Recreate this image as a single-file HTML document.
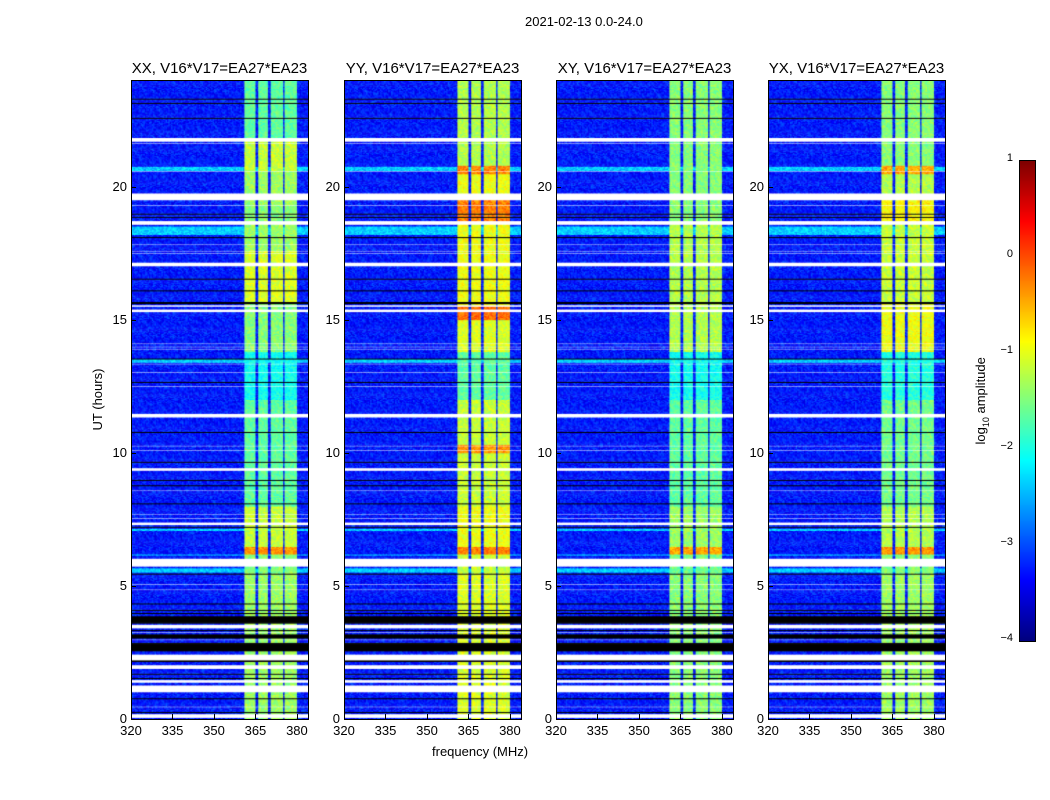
<!DOCTYPE html>
<html><head><meta charset="utf-8">
<style>
body{margin:0;background:#fff;width:1050px;height:800px;position:relative;overflow:hidden;font-family:"Liberation Sans",sans-serif;}
.abs{position:absolute;}
canvas{position:absolute;}
.ax{position:absolute;border:1px solid #000;box-sizing:border-box;}
.t{position:absolute;font-size:13px;color:#000;white-space:nowrap;}
.title{position:absolute;font-size:15px;white-space:nowrap;transform:translateX(-50%);}
.tick{position:absolute;background:#000;}
</style></head><body>
<div class="t" style="left:525px;top:14px;">2021-02-13 0.0-24.0</div>
<div id="root"></div>
<div class="t" style="left:432px;top:744px;">frequency (MHz)</div>
<div class="t" style="left:55px;top:392px;transform:rotate(-90deg);transform-origin:center;width:85px;text-align:center;">UT (hours)</div>
<canvas id="cbar" width="15" height="480" style="left:1019px;top:160px;border:1px solid #000;"></canvas>
<div class="t" style="left:927px;top:392px;transform:rotate(-90deg);width:110px;text-align:center;">log<sub style="font-size:9px">10</sub> amplitude</div>
<script>
// ---- data ----
const panelNames = ["XX, V16*V17=EA27*EA23","YY, V16*V17=EA27*EA23","XY, V16*V17=EA27*EA23","YX, V16*V17=EA27*EA23"];
const xTicks = [320,335,350,365,380];
const yTicks = [0,5,10,15,20];
const cbarTicks = [1,0,-1,-2,-3,-4];
const bandEdges = [[360.8,364.8],[365.8,369.6],[370.5,374.9],[375.6,379.9]];
const whiteRows = [[21.6,21.65],[21.7,21.75],[21.78,21.83],[20.55,20.6],[19.5,19.78],[19.27,19.32],[18.55,18.72],[17.8,17.85],[17.55,17.6],[17.48,17.52],[17.0,17.18],[15.5,15.55],[15.3,15.42],[14.08,14.12],[13.98,14.02],[13.88,13.92],[13.33,13.37],[13.0,13.04],[12.48,12.52],
 [11.3,11.5],[10.23,10.27],[10.08,10.12],[9.3,9.45],[8.58,8.62],[8.38,8.42],[7.68,7.72],[7.53,7.57],[7.28,7.4],[5.7,6.05],[5.03,5.07],[4.83,4.87],[3.4,3.58],[3.23,3.27],[2.98,3.02],[2.2,2.45],[1.9,2.05],[1.35,1.48],[1.0,1.3],[0.43,0.47],[0.05,0.2]];
const blackRows = [[23.28,23.32],[23.13,23.17],[22.58,22.62],[18.98,19.02],[18.83,18.87],[18.08,18.12],[16.53,16.57],[16.08,16.12],[15.6,15.68],[13.53,13.57],[12.63,12.67],
 [10.78,10.82],[9.63,9.67],[8.98,9.02],[8.78,8.82],[8.08,8.12],[7.2,7.24],[5.45,5.5],[4.33,4.37],[4.08,4.12],[3.98,4.02],[3.6,3.9],[3.32,3.36],[3.05,3.2],[2.55,2.9],[2.15,2.19],[1.68,1.72],[1.53,1.57],[0.78,0.82],[0.25,0.29]];
const cyanRows = [[20.62,20.75],[18.2,18.52],[13.42,13.52],[5.52,5.68],[6.15,6.22],[7.1,7.18]];
// band levels (log10 amp) per time segment for each panel: [t0,t1,level]
const bandLevelsXX = [[0,5.5,-1.3],[5.5,6.2,-1.4],[6.2,6.5,-0.3],[6.5,8,-1.1],[8,12,-1.6],[12,13.8,-2.0],[13.8,15.6,-1.4],[15.6,17.6,-1.0],[17.6,18.6,-1.3],[18.6,19.3,-1.4],[19.3,20.6,-1.3],[20.6,21.7,-1.1],[21.7,24,-1.6]];
const bandLevelsYY = [[0,5.5,-1.0],[5.5,6.2,-1.1],[6.2,6.5,-0.2],[6.5,8,-0.9],[8,10,-1.1],[10,10.3,-0.3],[10.3,12,-1.1],[12,13.8,-1.6],[13.8,15,-1.0],[15,15.5,-0.1],[15.5,18.6,-0.9],[18.6,19.5,-0.2],[19.5,20.5,-0.9],[20.5,20.8,-0.2],[20.8,24,-1.2]];
const bandLevelsXY = [[0,5.5,-1.4],[5.5,6.2,-1.5],[6.2,6.5,-0.4],[6.5,8,-1.3],[8,12,-1.6],[12,13.8,-2.0],[13.8,15.6,-1.2],[15.6,18.6,-1.2],[18.6,24,-1.4]];
const bandLevelsYX = [[0,5.5,-1.3],[5.5,6.2,-1.4],[6.2,6.5,-0.3],[6.5,8,-1.2],[8,12,-1.5],[12,13.8,-1.9],[13.8,15.6,-0.9],[15.6,18.6,-1.1],[18.6,19.6,-0.8],[19.6,20.5,-1.2],[20.5,20.8,-0.4],[20.8,24,-1.4]];
const bandLevels = [bandLevelsXX,bandLevelsYY,bandLevelsXY,bandLevelsYX];
const bgLevel = -3.2;
const cyanLevel = -2.3;

// ---- helpers ----
const panelLeft=[131,344,556,768], PW=177, PT=80, PH=639;
const FMIN=320,FMAX=384,TMIN=0,TMAX=24;
const xScale=f=>(f-FMIN)/(FMAX-FMIN)*PW;
const yScale=t=>PH-(t-TMIN)/(TMAX-TMIN)*PH;
function jet(v){
  const c=x=>Math.max(0,Math.min(1,x));
  const r=c(1.5-Math.abs(4*v-3)), g=c(1.5-Math.abs(4*v-2)), b=c(1.5-Math.abs(4*v-1));
  return `rgb(${r*255|0},${g*255|0},${b*255|0})`;
}
const lvlColor=l=>jet(Math.max(0,Math.min(1,(l+4)/5)));
const inR=(t,arr)=>arr.some(r=>t>=r[0]&&t<r[1]);
function tex(i,j,p){let h=(i*374761393+j*668265263+p*982451653)>>>0;h=(h^(h>>>13))*1274126177>>>0;return ((h&1023)/1023-0.5);}
const root=document.getElementById('root');
panelNames.forEach((name,p)=>{
  const L=panelLeft[p];
  const cv=document.createElement('canvas');
  cv.width=PW;cv.height=PH;cv.style.left=L+'px';cv.style.top=PT+'px';
  
  
  root.appendChild(cv);
  const ctx=cv.getContext('2d');
  ctx.fillStyle='#fff';ctx.fillRect(0,0,PW,PH);
  const dt=0.04, df=0.5;
  for(let i=0;i*dt<TMAX;i++){
    const t=i*dt+dt/2;
    const y0=yScale(i*dt+dt), y1=yScale(i*dt);
    if(inR(t,whiteRows)) continue;
    if(inR(t,blackRows)){ctx.fillStyle='#000';ctx.fillRect(0,y0,PW,y1-y0+0.5);continue;}
    const cy=inR(t,cyanRows);
    const seg=bandLevels[p].find(s=>t>=s[0]&&t<s[1]);
    for(let j=0;j*df<FMAX-FMIN;j++){
      const f=FMIN+j*df+df/2;
      let lv=cy?cyanLevel:bgLevel;
      const inBand=bandEdges.some(b=>f>=b[0]&&f<b[1]);
      if(inBand && seg) lv=Math.max(lv,seg[2]);
      lv+=tex(i,j,p)*(inBand?0.5:0.6);
      ctx.fillStyle=lvlColor(lv);
      const x0=xScale(FMIN+j*df), x1=xScale(FMIN+j*df+df);
      ctx.fillRect(x0,y0,x1-x0+0.5,y1-y0+0.5);
    }
  }
  const ax=document.createElement('div');ax.className='ax';
  ax.style.cssText=`left:${L}px;top:${PT}px;width:${PW+1}px;height:${PH+1}px;`;
  
  
  root.appendChild(ax);
  const ti=document.createElement('div');ti.className='title';ti.textContent=name;
  ti.style.left=(L+PW/2)+'px';ti.style.top='60px';
  
  
  root.appendChild(ti);
  xTicks.forEach(v=>{
    const x=L+xScale(v);
    const tk=document.createElement('div');tk.className='tick';
    tk.style.cssText=`left:${x}px;top:${PT+PH-5}px;width:1px;height:5px;`;
    
    
    root.appendChild(tk);
    const lb=document.createElement('div');lb.className='t';lb.textContent=v;
    lb.style.cssText=`left:${x-11}px;top:${PT+PH+4}px;width:22px;text-align:center;`;
    
    
    root.appendChild(lb);
  });
  yTicks.forEach(v=>{
    const y=PT+yScale(v);
    const tk=document.createElement('div');tk.className='tick';
    tk.style.cssText=`left:${L}px;top:${y}px;width:5px;height:1px;`;
    
    
    root.appendChild(tk);
    const lb=document.createElement('div');lb.className='t';lb.textContent=v;
    lb.style.cssText=`left:${L-34}px;top:${y-8}px;width:30px;text-align:right;`;
    
    
    root.appendChild(lb);
  });
});
const cb=document.getElementById('cbar').getContext('2d');
for(let k=0;k<480;k++){cb.fillStyle=jet(1-k/479);cb.fillRect(0,k,15,1);}
cbarTicks.forEach(v=>{
  const y=160+(1-v)/5*480;
  const lb=document.createElement('div');lb.className='t';
  lb.textContent=v<0?'\u2212'+(-v):String(v);
  lb.style.cssText=`left:${985}px;top:${y-8}px;width:28px;text-align:right;font-size:11px;`;
  
  
  root.appendChild(lb);
});
</script>
</body></html>
